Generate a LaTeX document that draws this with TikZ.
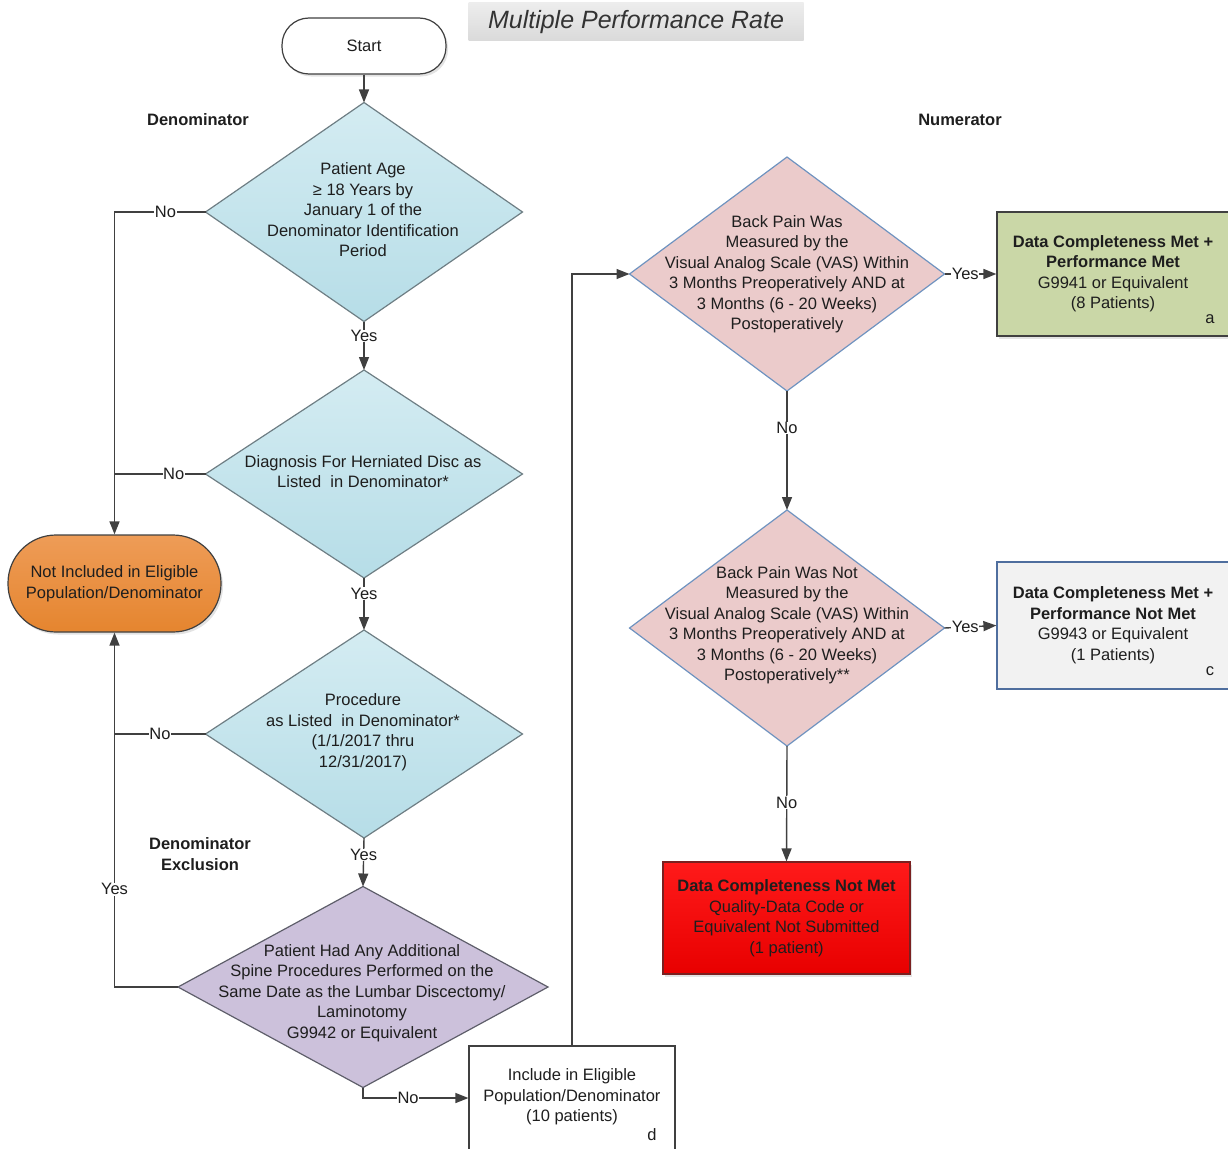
\documentclass[tikz,border=0pt]{standalone}
\usepackage{fontspec}
\setmainfont{Liberation Sans}
\usetikzlibrary{shapes.geometric,arrows.meta,shadows}
\definecolor{ln}{HTML}{404040}
\definecolor{txt}{HTML}{1E1E1E}
\definecolor{bluetop}{HTML}{D4ECF2}
\definecolor{bluebot}{HTML}{B6DDE7}
\definecolor{bluebd}{HTML}{6E7E84}
\definecolor{pinkfill}{HTML}{EBCBCB}
\definecolor{pinkbd}{HTML}{6F93C0}
\definecolor{purpfill}{HTML}{CCC1DB}
\definecolor{purpbd}{HTML}{5E5E6A}
\definecolor{orgtop}{HTML}{EE9C57}
\definecolor{orgbot}{HTML}{E5852F}
\definecolor{grnfill}{HTML}{CAD7A7}
\definecolor{graybox}{HTML}{F2F2F2}
\definecolor{cbd}{HTML}{4F6E9E}
\definecolor{redtop}{HTML}{FF1A1A}
\definecolor{redbot}{HTML}{E80000}
\definecolor{redbd}{HTML}{7A2020}
\definecolor{titletop}{HTML}{EDEDED}
\definecolor{titlebot}{HTML}{DADADA}
\begin{document}
\begin{tikzpicture}[x=1pt,y=-1pt,
  font=\fontsize{16.5}{20.5}\selectfont,
  every node/.style={text=txt},
  shd/.style={drop shadow={opacity=0.22,shadow xshift=2pt,shadow yshift=-2.5pt}},
  diam/.style={diamond,inner sep=0pt,outer sep=0pt,line width=1.2pt},
  bluediam/.style={diam,draw=bluebd,top color=bluetop,bottom color=bluebot},
  pinkdiam/.style={diam,draw=pinkbd,fill=pinkfill},
  purpdiam/.style={diam,draw=purpbd,fill=purpfill},
  dtext/.style={align=center,inner sep=0pt},
  boxtext/.style={align=center,inner sep=0pt},
  lbl/.style={fill=white,inner sep=0.5pt,text=txt},
  con/.style={draw=ln,line width=1.4pt},
  arr/.style={con,-{Triangle[length=13pt,width=10pt]}},
  hdr/.style={font=\fontsize{16.5}{20.5}\selectfont\bfseries,align=center}
]
\useasboundingbox (0,0) rectangle (1228,1148);

% title
\node[top color=titletop,bottom color=titlebot,minimum width=335,minimum height=38,inner sep=0pt] (title) at (636,22)
  {\fontsize{25}{30}\selectfont\itshape\color[HTML]{333333}Multiple Performance Rate};

% start
\node[draw=ln,line width=1.2pt,fill=white,rounded corners=27pt,minimum width=164,minimum height=56,shd] (start) at (364,46) {Start};

% headers
\node[hdr] (hden) at (198,120) {Denominator};
\node[hdr] (hnum) at (960,120) {Numerator};
\node[hdr] (hexc) at (200,854) {Denominator\\Exclusion};

% left diamonds
\node[bluediam,minimum width=317,minimum height=219] (d1) at (364,212) {};
\node[dtext] (d1t) at (363,210) {Patient Age\\≥ 18 Years by\\January 1 of the\\Denominator Identification\\Period};

\node[bluediam,minimum width=317,minimum height=208] (d2) at (364,474) {};
\node[dtext] (d2t) at (363,471.5) {Diagnosis For Herniated Disc as\\Listed\ \ in Denominator*};

\node[bluediam,minimum width=317,minimum height=208] (d3) at (364,734) {};
\node[dtext] (d3t) at (363,732) {Procedure\\as Listed\ \ in Denominator*\\(1/1/2017 thru\\12/31/2017)};

\node[purpdiam,minimum width=370,minimum height=201] (d4) at (363,987) {};
\node[dtext] (d4t) at (362,993) {Patient Had Any Additional\\Spine Procedures Performed on the\\Same Date as the Lumbar Discectomy/\\Laminotomy\\G9942 or Equivalent};

% not included
\node[draw=ln,line width=1.2pt,top color=orgtop,bottom color=orgbot,rounded corners=48pt,minimum width=213,minimum height=97,inner sep=0pt,align=center,shd] (ni) at (114.5,583.5) {Not Included in Eligible\\Population/Denominator};

% include box
\node[draw=ln,line width=1.2pt,fill=white,minimum width=206,minimum height=104,inner sep=0pt] (inc) at (572,1098) {};
\node[boxtext] (inct) at (572,1097) {Include in Eligible\\Population/Denominator\\(10 patients)};
\node (incd) at (652,1135) {d};

% right diamonds
\node[pinkdiam,minimum width=315,minimum height=234] (r1) at (787,274) {};
\node[dtext] (r1t) at (787,274) {Back Pain Was\\Measured by the\\Visual Analog Scale (VAS) Within\\3 Months Preoperatively AND at\\3 Months (6 - 20 Weeks)\\Postoperatively};

\node[pinkdiam,minimum width=315,minimum height=236] (r2) at (787,628) {};
\node[dtext] (r2t) at (787,625) {Back Pain Was Not\\Measured by the\\Visual Analog Scale (VAS) Within\\3 Months Preoperatively AND at\\3 Months (6 - 20 Weeks)\\Postoperatively**};

% outcome boxes
\node[draw=ln,line width=1.2pt,fill=grnfill,minimum width=235,minimum height=124,inner sep=0pt,shd] (ga) at (1114.5,274) {};
\node[boxtext] (gat) at (1113,273.5) {\textbf{Data Completeness Met +}\\\textbf{Performance Met}\\G9941 or Equivalent\\(8 Patients)};
\node (gaa) at (1210,319) {a};

\node[draw=cbd,line width=1.2pt,fill=graybox,minimum width=235,minimum height=127,inner sep=0pt] (gc) at (1114.5,625.5) {};
\node[boxtext] (gct) at (1113,625) {\textbf{Data Completeness Met +}\\\textbf{Performance Not Met}\\G9943 or Equivalent\\(1 Patients)};
\node (gcc) at (1210,671) {c};

\node[draw=redbd,line width=1.2pt,top color=redtop,bottom color=redbot,minimum width=247,minimum height=112,inner sep=0pt,align=center,shd] (rd) at (786.5,918)
  {\textbf{Data Completeness Not Met}\\Quality-Data Code or\\Equivalent Not Submitted\\(1 patient)};

% connectors
\draw[arr] (start) -- (d1);
\draw[arr] (d1.west) -- node[lbl,pos=0.44]{No} (d1.west -| ni.north) -- (ni.north);
\draw[con] (d2.west) -- node[lbl,pos=0.35]{No} (d2.west -| ni.north);
\draw[arr] (d3.west) -- node[lbl,pos=0.5]{No} (d3.west -| ni.south) -- (ni.south);
\draw[con] (d4.west) -- (d4.west -| ni.south) -- node[lbl,pos=0.386]{Yes} (d3.west -| ni.south);

\draw[arr] (d1.south) -- node[lbl,pos=0.3]{Yes} (d2.north);
\draw[arr] (d2.south) -- node[lbl,pos=0.3]{Yes} (d3.north);
\draw[arr] (d3.south) -- node[lbl,pos=0.35]{Yes} (d4.north);
\draw[arr] (d4.south) |- node[lbl,pos=0.714]{No} (inc.west);

\draw[arr] (inc.north) |- (r1.west);
\draw[arr] (r1.east) -- node[lbl,pos=0.4]{Yes} (ga.west);
\draw[arr] (r1.south) -- node[lbl,pos=0.31]{No} (r2.north);
\draw[arr] (r2.east) -- node[lbl,pos=0.4]{Yes} (gc.west);
\draw[arr] (r2.south) -- node[lbl,pos=0.49]{No} (rd.north);
\end{tikzpicture}
\end{document}
